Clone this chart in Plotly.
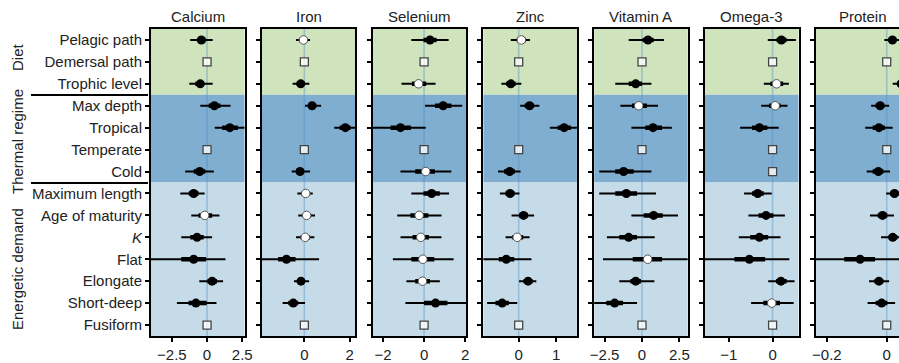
import plotly.graph_objects as go

ROWS = ["Pelagic path", "Demersal path", "Trophic level", "Max depth", "Tropical",
        "Temperate", "Cold", "Maximum length", "Age of maturity", "<i>K</i>", "Flat",
        "Elongate", "Short-deep", "Fusiform"]
GROUPS = ["Diet", "Thermal regime", "Energetic demand"]
NUTRIENTS = ["Calcium", "Iron", "Selenium", "Zinc", "Vitamin A", "Omega-3", "Protein"]

# each row: (estimate, outer lo, inner lo, inner hi, outer hi); None = reference level
CALCIUM = [(-0.4, -1.2, -0.7, -0.1, 0.4), None, (-0.48, -1.26, -0.83, -0.2, 0.4),
           (0.52, -0.48, 0.12, 0.95, 1.67), (1.62, 0.55, 1.07, 2.19, 2.7), None,
           (-0.52, -1.55, -0.95, -0.12, 0.48), (-0.95, -1.9, -1.3, -0.6, -0.17),
           (-0.17, -1.12, -0.6, 0.36, 0.88), (-0.71, -1.83, -1.19, -0.24, 0.36),
           (-0.95, -4.3, -1.83, -0.07, 1.31), (0.36, -0.55, 0.02, 0.71, 1.14),
           (-0.79, -2.14, -1.31, -0.02, 0.67), None]
IRON = [(-0.04, -0.37, -0.22, 0.13, 0.25), None, (-0.16, -0.52, -0.34, 0.03, 0.22),
        (0.34, 0.03, 0.18, 0.52, 0.74), (1.81, 1.32, 1.56, 2.04, 2.4), None,
        (-0.19, -0.56, -0.37, -0.02, 0.25), (0.06, -0.31, -0.12, 0.25, 0.37),
        (0.1, -0.27, -0.07, 0.3, 0.47), (0.04, -0.37, -0.16, 0.25, 0.44),
        (-0.79, -2.0, -1.16, -0.39, 0.65), (-0.15, -0.46, -0.3, 0.0, 0.21),
        (-0.49, -0.96, -0.71, -0.27, 0.03), None]
SELENIUM = [(0.29, -0.62, -0.03, 0.61, 1.2), None, (-0.27, -1.1, -0.59, 0.1, 0.56),
            (0.93, 0.05, 0.53, 1.33, 1.86), (-1.15, -2.7, -1.63, -0.64, 0.08), None,
            (0.08, -1.15, -0.43, 0.53, 1.33), (0.37, -0.62, -0.03, 0.77, 1.22),
            (-0.24, -1.31, -0.67, 0.21, 0.85), (-0.16, -1.15, -0.56, 0.24, 0.85),
            (-0.06, -1.52, -0.62, 0.5, 1.44), (-0.08, -0.86, -0.43, 0.29, 0.77),
            (0.56, -0.91, 0.0, 1.14, 2.2), None]
ZINC = [(0.07, -0.21, -0.05, 0.19, 0.3), None, (-0.21, -0.46, -0.33, -0.08, 0.07),
        (0.29, 0.04, 0.16, 0.41, 0.55), (1.21, 0.83, 1.04, 1.39, 1.6), None,
        (-0.24, -0.55, -0.39, -0.1, 0.05), (-0.23, -0.5, -0.35, -0.11, 0.02),
        (0.13, -0.19, 0.01, 0.25, 0.41), (-0.04, -0.35, -0.17, 0.12, 0.29),
        (-0.33, -1.0, -0.53, -0.12, 0.34), (0.25, 0.01, 0.13, 0.37, 0.47),
        (-0.44, -0.84, -0.62, -0.26, -0.04), None]
VITAMIN_A = [(0.4, -0.89, 0.04, 0.78, 1.47), None, (-0.42, -1.79, -0.89, 0.0, 0.63),
             (-0.22, -1.45, -0.67, 0.33, 1.07), (0.74, -0.71, 0.22, 1.34, 2.0), None,
             (-1.23, -2.86, -1.79, -0.56, 0.63), (-1.05, -2.86, -1.79, -0.33, 0.94),
             (0.78, -0.71, 0.11, 1.39, 2.41), (-0.89, -2.35, -1.52, -0.33, 0.85),
             (0.38, -2.61, -0.62, 1.34, 3.3), (-0.42, -1.52, -0.78, -0.07, 0.83),
             (-1.83, -3.4, -2.39, -1.27, -0.33), None]
OMEGA_3 = [(0.2, -0.11, 0.09, 0.32, 0.53), None, (0.09, -0.2, -0.05, 0.24, 0.37),
           (0.06, -0.26, -0.08, 0.18, 0.34), (-0.3, -0.74, -0.47, -0.12, 0.14), None,
           (0.24, -0.14, 0.11, 0.39, 0.65), (-0.34, -0.65, -0.47, -0.2, -0.02),
           (-0.15, -0.55, -0.32, 0.02, 0.28), (-0.3, -0.77, -0.51, -0.1, 0.18),
           (-0.53, -1.6, -0.87, -0.17, 0.38), (0.19, -0.1, 0.08, 0.32, 0.5),
           (-0.02, -0.49, -0.21, 0.17, 0.48), None]
PROTEIN = [(0.019, -0.008, 0.006, 0.033, 0.05), None, (0.048, 0.02, 0.035, 0.062, 0.08),
           (-0.022, -0.052, -0.037, -0.008, 0.008), (-0.026, -0.072, -0.047, -0.006, 0.02), None,
           (-0.028, -0.067, -0.047, -0.011, 0.011), (0.026, -0.002, 0.011, 0.04, 0.055),
           (-0.014, -0.056, -0.03, 0.002, 0.024), (0.02, -0.019, 0.006, 0.036, 0.055),
           (-0.089, -0.26, -0.142, -0.039, 0.06), (-0.026, -0.059, -0.041, -0.011, 0.008),
           (-0.017, -0.064, -0.037, 0.002, 0.028), None]

# marker kind per row: f = filled (credible), o = open, r = reference level
CALCIUM_KIND = "frfffrffoffffr"
IRON_KIND = "orfffrfooofffr"
SELENIUM_KIND = "froffrofoooofr"
ZINC_KIND = "orfffrfffoffffr"[:14]
VITAMIN_A_KIND = "frfofrffffoffr"
OMEGA_3_KIND = "frooffrfffffor"
PROTEIN_KIND = "frfffrffffffffr"[:14]

DATA = [CALCIUM, IRON, SELENIUM, ZINC, VITAMIN_A, OMEGA_3, PROTEIN]
KINDS = [CALCIUM_KIND, IRON_KIND, SELENIUM_KIND, ZINC_KIND, VITAMIN_A_KIND, OMEGA_3_KIND, PROTEIN_KIND]

X_RANGES = [(-3.98, 2.66), (-1.88, 2.25), (-2.51, 2.05), (-0.94, 1.55),
            (-3.2, 3.06), (-1.54, 0.59), (-0.237, 0.041)]
X_TICKS = [[-2.5, 0, 2.5], [0, 2], [-2, 0, 2], [0, 1], [-2.5, 0, 2.5], [-1, 0], [-0.2, 0]]

GROUP_SPANS = [(0, 2), (3, 6), (7, 13)]
BAND_COLORS = ["#cfe3bd", "#80aed1", "#c6dbe8"]

FONT = "Liberation Sans, Arial, Helvetica, sans-serif"
W, H = 899, 363
PL, PR, PT, PB = 151, 899, 29, 336
PANEL_W, PANEL_STEP = 93.5, 110.8


def px2x(px):
    return (px - PL) / (PR - PL)


def py2y(py):
    return (PB - py) / (PB - PT)


fig = go.Figure()
shapes, annotations = [], []
n = len(ROWS)
yr = list(range(n))

for i, (name, rows, kinds) in enumerate(zip(NUTRIENTS, DATA, KINDS)):
    xa = "x" if i == 0 else f"x{i+1}"
    ya = "y" if i == 0 else f"y{i+1}"
    left = PL + PANEL_STEP * i
    right = left + PANEL_W
    dom = [px2x(left), min(px2x(right), 1.0)]
    last = i == len(NUTRIENTS) - 1

    thin_x, thin_y, thick_x, thick_y = [], [], [], []
    fx, fy, ox, oy, rx, ry = [], [], [], [], [], []
    for r, (row, k) in enumerate(zip(rows, kinds)):
        if row is None or k == "r":
            rx.append(0)
            ry.append(r)
            continue
        est, lo95, lo50, hi50, hi95 = row
        thin_x += [lo95, hi95, None]
        thin_y += [r, r, None]
        thick_x += [lo50, hi50, None]
        thick_y += [r, r, None]
        if k == "f":
            fx.append(est); fy.append(r)
        else:
            ox.append(est); oy.append(r)

    common = dict(xaxis=xa, yaxis=ya, showlegend=False, hoverinfo="skip")
    fig.add_trace(go.Scatter(x=thin_x, y=thin_y, mode="lines",
                             line=dict(color="black", width=2), **common))
    fig.add_trace(go.Scatter(x=thick_x, y=thick_y, mode="lines",
                             line=dict(color="black", width=4.5), **common))
    fig.add_trace(go.Scatter(x=fx, y=fy, mode="markers",
                             marker=dict(color="black", size=9, line=dict(width=0)), **common))
    fig.add_trace(go.Scatter(x=ox, y=oy, mode="markers",
                             marker=dict(color="white", size=8.5,
                                         line=dict(color="#555555", width=1)), **common))
    fig.add_trace(go.Scatter(x=rx, y=ry, mode="markers",
                             marker=dict(symbol="square", color="rgba(255,255,255,0.78)", size=8,
                                         line=dict(color="#444444", width=1.3)), **common))

    fig.layout[("xaxis" if i == 0 else f"xaxis{i+1}")] = dict(
        domain=dom, range=list(X_RANGES[i]), anchor=ya, tickvals=X_TICKS[i],
        automargin=False, showgrid=False, zeroline=False, showline=True, mirror=True,
        linecolor="black", linewidth=2, ticks="outside", ticklen=4, tickwidth=1.5,
        tickcolor="black", tickfont=dict(family=FONT, size=15, color="#222"))
    fig.layout[("yaxis" if i == 0 else f"yaxis{i+1}")] = dict(
        domain=[0, 1], range=[n - 0.5, -0.5], anchor=xa, tickvals=yr,
        ticktext=ROWS, showticklabels=(i == 0), showgrid=False, zeroline=False,
        automargin=False, showline=True, mirror=(not last), linecolor="black", linewidth=2,
        ticks="outside", ticklen=4, tickwidth=1.5, tickcolor="black",
        tickfont=dict(family=FONT, size=15, color="#222"))

    for (a, b), col in zip(GROUP_SPANS, BAND_COLORS):
        shapes.append(dict(type="rect", xref=f"{xa} domain", x0=0, x1=1,
                           yref=ya, y0=a - 0.5, y1=b + 0.5, fillcolor=col,
                           line=dict(width=0), layer="below"))
    shapes.append(dict(type="line", xref=xa, x0=0, x1=0, yref=f"{ya} domain", y0=0, y1=1,
                       line=dict(color="rgba(70,140,200,0.38)", width=1.6), layer="below"))

    annotations.append(dict(text=name, xref="paper", yref="paper",
                            x=px2x(left + PANEL_W / 2), y=py2y(16.5),
                            xanchor="center", yanchor="middle", showarrow=False,
                            font=dict(family=FONT, size=15, color="#222")))

# group separators and labels
for sep_py in (95, 183):
    shapes.append(dict(type="line", xref="paper", yref="paper",
                       x0=px2x(31), x1=px2x(148), y0=py2y(sep_py), y1=py2y(sep_py),
                       line=dict(color="black", width=2)))
for g, cy in zip(GROUPS, (57, 142, 269)):
    annotations.append(dict(text=g, xref="paper", yref="paper", x=px2x(17), y=py2y(cy),
                            xanchor="center", yanchor="middle", textangle=-90,
                            showarrow=False, font=dict(family=FONT, size=15, color="#222")))

fig.update_layout(width=W, height=H, autosize=False,
                  margin=dict(l=PL, r=W - PR, t=PT, b=H - PB, pad=0, autoexpand=False),
                  paper_bgcolor="white", plot_bgcolor="white",
                  shapes=shapes, annotations=annotations)

# the page's default 8px body margin would push the fixed-size figure off the window
fig.write_html("out.html", config={"displayModeBar": False},
               post_script="document.body.style.margin='0';document.body.style.overflow='hidden';")
